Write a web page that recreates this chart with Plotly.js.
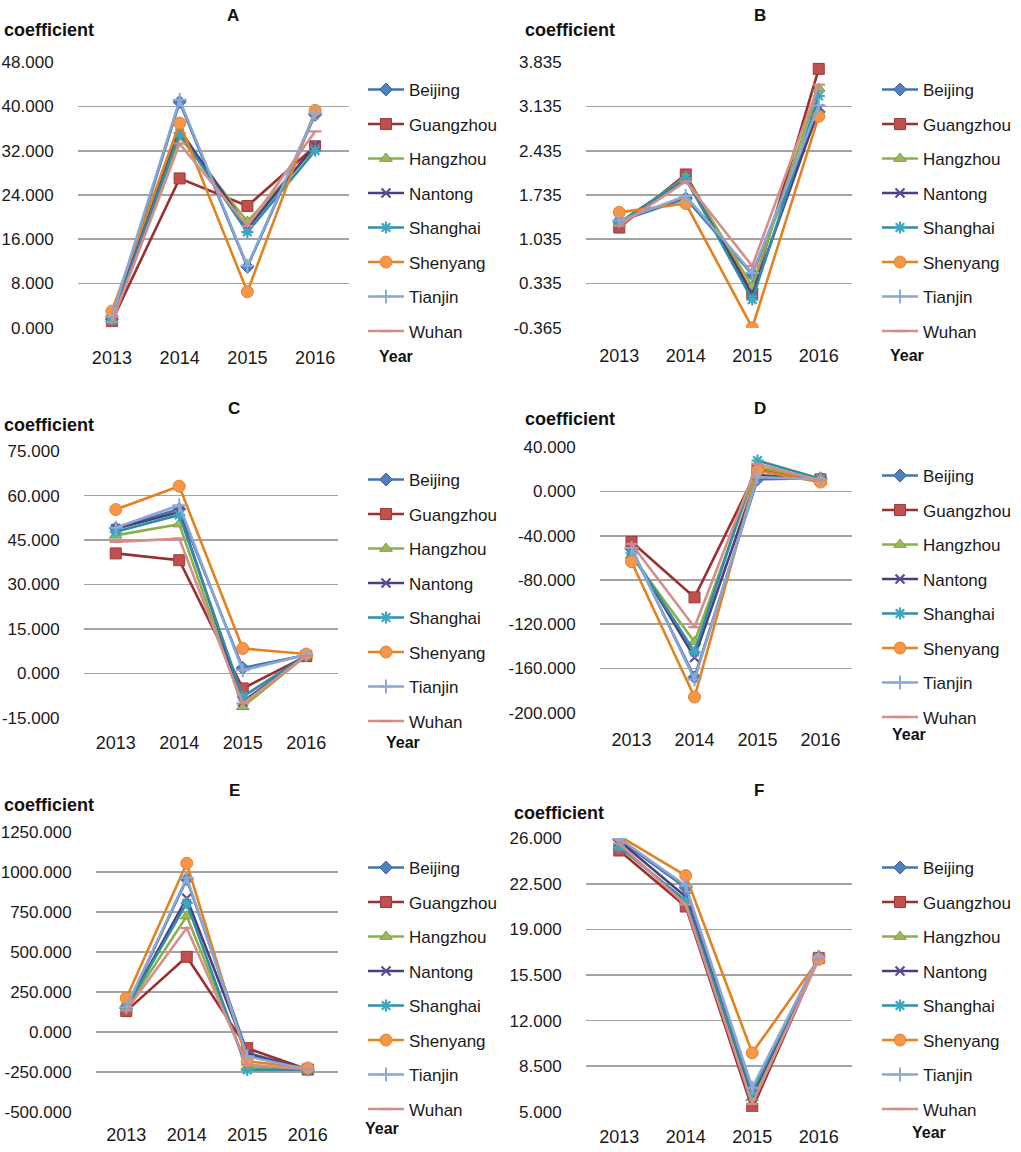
<!DOCTYPE html>
<html>
<head>
<meta charset="utf-8">
<script src="https://cdn.plot.ly/plotly-3.0.1.min.js"></script>
<style>
html,body{margin:0;padding:0;background:#fff;}
#chart{width:1021px;height:1152px;}
</style>
</head>
<body>
<div id="chart"></div>
<script>
// ---------- DATA ----------
const years = ['2013', '2014', '2015', '2016'];
const cities = ['Beijing', 'Guangzhou', 'Hangzhou', 'Nantong', 'Shanghai', 'Shenyang', 'Tianjin', 'Wuhan'];
const panelTitles = ['A', 'B', 'C', 'D', 'E', 'F'];

// values per city (order as in cities), per year
const panelA = [
  [1.5, 40.8, 11.0, 38.5],
  [1.2, 27.0, 22.0, 32.8],
  [1.5, 34.5, 19.2, 32.5],
  [1.8, 35.8, 18.0, 33.0],
  [1.3, 35.2, 17.3, 32.0],
  [3.0, 37.0, 6.5, 39.3],
  [2.0, 41.2, 11.2, 38.8],
  [1.0, 33.3, 18.4, 35.5]
];
const panelB = [
  [1.32, 1.68, 0.48, 3.05],
  [1.22, 2.06, 0.18, 3.73],
  [1.28, 2.02, 0.29, 3.42],
  [1.30, 1.99, 0.15, 3.10],
  [1.30, 2.00, 0.08, 3.30],
  [1.46, 1.60, -0.365, 2.98],
  [1.33, 1.72, 0.50, 3.15],
  [1.25, 1.95, 0.61, 3.48]
];
const panelC = [
  [49.0, 55.5, 1.8, 6.2],
  [40.5, 38.2, -5.1, 5.8],
  [46.6, 50.4, -11.3, 6.0],
  [48.8, 54.5, -9.6, 6.1],
  [47.8, 53.5, -7.9, 6.0],
  [55.3, 63.2, 8.4, 6.5],
  [49.2, 56.8, 1.0, 6.3],
  [44.4, 45.5, -10.2, 5.9]
];
const panelD = [
  [-52.0, -168.0, 11.0, 12.0],
  [-45.5, -95.7, 20.0, 11.0],
  [-58.0, -136.0, 22.0, 10.5],
  [-55.0, -150.0, 15.0, 11.0],
  [-56.0, -145.0, 28.0, 11.5],
  [-63.5, -185.8, 19.0, 8.5],
  [-51.0, -170.0, 13.0, 11.0],
  [-47.5, -122.7, 25.0, 10.0]
];
const panelE = [
  [148, 956, -130, -236],
  [130, 470, -102, -236],
  [145, 725, -220, -238],
  [150, 837, -140, -236],
  [150, 806, -238, -237],
  [211, 1056, -184, -226],
  [155, 965, -153, -235],
  [135, 650, -205, -234]
];
const panelF = [
  [25.90, 22.20, 6.60, 16.9],
  [25.06, 20.76, 5.23, 16.8],
  [25.40, 21.15, 6.07, 16.8],
  [25.80, 21.50, 6.30, 16.9],
  [25.35, 21.20, 6.50, 16.9],
  [26.18, 23.14, 9.52, 16.7],
  [26.00, 22.35, 6.84, 16.9],
  [25.60, 20.90, 5.60, 16.7]
];

// y tick values for each panel
const ticksA = [0, 8, 16, 24, 32, 40, 48];
const ticksB = [-0.365, 0.335, 1.035, 1.735, 2.435, 3.135, 3.835];
const ticksC = [-15, 0, 15, 30, 45, 60, 75];
const ticksD = [-200, -160, -120, -80, -40, 0, 40];
const ticksE = [-500, -250, 0, 250, 500, 750, 1000, 1250];
const ticksF = [5, 8.5, 12, 15.5, 19, 22.5, 26];

// ---------- STYLE ----------
const W = 1021, H = 1152;
const FONT = 'Liberation Sans, Arial, sans-serif';
const styles = [
  {sym: 'diamond', size: 10, fill: '#4F81BD', edge: '#3A6597', line: '#4474AE', lw: 1},
  {sym: 'square', size: 11, fill: '#C0504D', edge: '#9A3B39', line: '#9B2F2F', lw: 1},
  {sym: 'triangle-up', size: 11, fill: '#9BBB59', edge: '#7D9A40', line: '#8CAF4A', lw: 1},
  {sym: 'x-thin', size: 9, fill: '#5E4A8E', edge: '#5E4A8E', line: '#4E3D7D', lw: 2.2},
  {sym: 'asterisk', size: 10, fill: '#3FA6C2', edge: '#3FA6C2', line: '#2F8EA6', lw: 2.2},
  {sym: 'circle', size: 12, fill: '#F79646', edge: '#E08534', line: '#E4821F', lw: 1},
  {sym: 'cross-thin', size: 10, fill: '#8EAAD8', edge: '#8EAAD8', line: '#8AA6D3', lw: 2},
  {sym: 'line-ew', size: 9, fill: '#D99694', edge: '#D08A88', line: '#D48E8C', lw: 2.2}
];

// panel geometry in pixels
const geo = [
  {x0: 78, x1: 349, yt: 62, yb: 328, legX: 367, legY: 90, titleX: 233, titleY: 16, coefX: 2, coefY: 30, yearX: 377, yearY: 356, xlen: 13},
  {x0: 586, x1: 852, yt: 62, yb: 328, legX: 881, legY: 90, titleX: 760, titleY: 16, coefX: 523, coefY: 30, yearX: 888, yearY: 355, xlen: 11},
  {x0: 84, x1: 338, yt: 451, yb: 718, legX: 367, legY: 480, titleX: 234, titleY: 408, coefX: 2, coefY: 425, yearX: 384, yearY: 742, xlen: 8},
  {x0: 600, x1: 852, yt: 447, yb: 713, legX: 881, legY: 476, titleX: 760, titleY: 408, coefX: 523, coefY: 419, yearX: 890, yearY: 734, xlen: 10},
  {x0: 96, x1: 338, yt: 832, yb: 1112, legX: 367, legY: 868, titleX: 234, titleY: 790, coefX: 2, coefY: 805, yearX: 363, yearY: 1128, xlen: 6},
  {x0: 586, x1: 852, yt: 838, yb: 1112, legX: 881, legY: 868, titleX: 759, titleY: 790, coefX: 512, coefY: 813, yearX: 910, yearY: 1132, xlen: 8}
];

const panels = [panelA, panelB, panelC, panelD, panelE, panelF];
const ticks = [ticksA, ticksB, ticksC, ticksD, ticksE, ticksF];

const traces = [];
const layout = {
  width: W, height: H,
  margin: {l: 0, r: 0, t: 0, b: 0},
  paper_bgcolor: '#ffffff',
  plot_bgcolor: 'rgba(0,0,0,0)',
  font: {family: FONT, color: '#1a1a1a', size: 17},
  annotations: [],
  showlegend: true
};

panels.forEach((data, p) => {
  const g = geo[p];
  const sfx = p === 0 ? '' : String(p + 1);
  const legName = 'legend' + sfx;
  cities.forEach((city, i) => {
    const s = styles[i];
    traces.push({
      type: 'scatter', mode: 'lines+markers',
      x: years, y: data[i], name: city,
      xaxis: 'x' + sfx, yaxis: 'y' + sfx,
      legend: legName, legendgroup: panelTitles[p] + city,
      line: {color: s.line, width: 2.6},
      marker: {symbol: s.sym, size: s.size, color: s.fill, line: {color: s.edge, width: s.lw}},
      hoverinfo: 'x+y+name'
    });
  });
  const tv = ticks[p];
  const span = tv[tv.length - 1] - tv[0];
  layout['xaxis' + sfx] = {
    type: 'category', range: [-0.5, 3.5],
    domain: [g.x0 / W, g.x1 / W],
    anchor: 'y' + sfx,
    showgrid: false, zeroline: false, showline: false,
    ticks: 'outside', ticklen: g.xlen, tickcolor: 'rgba(0,0,0,0)',
    tickfont: {size: 18, family: FONT, color: '#1a1a1a'},
    fixedrange: true
  };
  layout['yaxis' + sfx] = {
    range: [tv[0] - span * 0.001, tv[tv.length - 1] + span * 0.001],
    domain: [1 - g.yb / H, 1 - g.yt / H],
    anchor: 'x' + sfx,
    tickmode: 'array', tickvals: tv, ticktext: tv.map(v => v.toFixed(3)),
    showgrid: true, gridcolor: '#a3a3a3', gridwidth: 1.6,
    zeroline: false, showline: false,
    ticks: 'outside', ticklen: 20, tickcolor: 'rgba(0,0,0,0)',
    tickfont: {size: 17, family: FONT, color: '#1a1a1a'},
    fixedrange: true
  };
  layout[legName] = {
    x: (g.legX - 4) / W, y: 1 - (g.legY - 18) / H,
    xanchor: 'left', yanchor: 'top',
    bgcolor: 'rgba(0,0,0,0)', borderwidth: 0,
    traceorder: 'grouped', tracegroupgap: 9.4,
    itemwidth: 36,
    font: {size: 17, family: FONT, color: '#1a1a1a'},
    itemclick: false, itemdoubleclick: false
  };
  layout.annotations.push(
    {text: '<b>' + panelTitles[p] + '</b>', xref: 'paper', yref: 'paper',
     x: g.titleX / W, y: 1 - g.titleY / H, xanchor: 'center', yanchor: 'middle',
     showarrow: false, font: {size: 17, family: FONT, color: '#111'}},
    {text: '<b>coefficient</b>', xref: 'paper', yref: 'paper',
     x: g.coefX / W, y: 1 - g.coefY / H, xanchor: 'left', yanchor: 'middle',
     showarrow: false, font: {size: 18, family: FONT, color: '#111'}},
    {text: '<b>Year</b>', xref: 'paper', yref: 'paper',
     x: g.yearX / W, y: 1 - g.yearY / H, xanchor: 'left', yanchor: 'middle',
     showarrow: false, font: {size: 16, family: FONT, color: '#111'}}
  );
});

Plotly.newPlot('chart', traces, layout, {displayModeBar: false, staticPlot: true});
</script>
</body>
</html>
